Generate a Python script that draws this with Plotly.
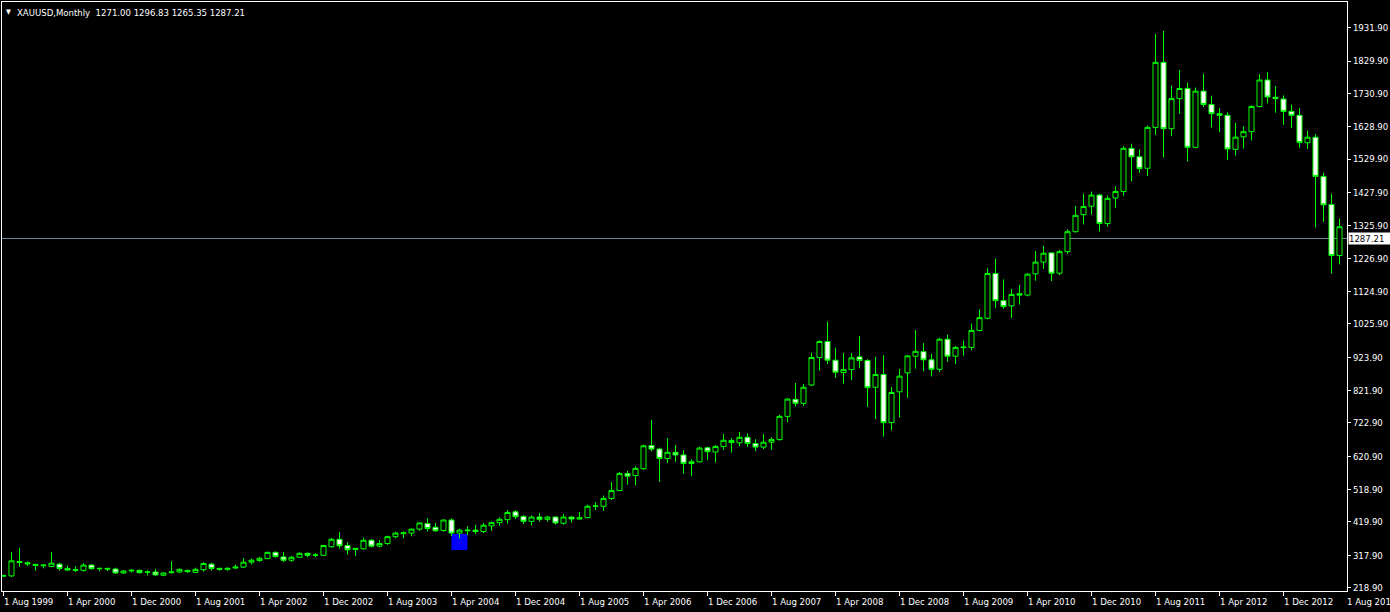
import plotly.graph_objects as go
import pandas as pd

# ---- data (monthly XAUUSD, Aug 1999 .. Jul 2013) ----
months = pd.date_range("1999-08-01", periods=168, freq="MS").strftime("%b %Y").tolist()

opens = [254, 255, 299, 295, 290, 286, 284, 291, 278, 274, 272, 288, 277, 278, 276, 264, 270, 272, 266, 267,
         257, 265, 267, 272, 266, 274, 291, 278, 275, 279, 282, 297, 302, 308, 327, 313, 303, 312, 324, 318,
         318, 344, 367, 348, 336, 338, 364, 346, 354, 375, 384, 386, 398, 415, 404, 394, 426, 386, 393, 395,
         391, 408, 418, 427, 451, 437, 422, 435, 428, 435, 416, 435, 429, 433, 468, 468, 492, 516, 568, 562,
         583, 654, 643, 614, 633, 625, 599, 604, 647, 634, 651, 663, 662, 679, 660, 649, 664, 672, 743, 795,
         783, 839, 923, 972, 915, 877, 886, 925, 914, 832, 871, 724, 818, 876, 927, 941, 916, 887, 979, 927,
         953, 954, 1006, 1043, 1180, 1097, 1081, 1118, 1114, 1179, 1215, 1243, 1181, 1247, 1308, 1360, 1386, 1420, 1333, 1411,
         1431, 1563, 1537, 1502, 1627, 1826, 1623, 1715, 1746, 1566, 1738, 1697, 1669, 1664, 1560, 1598, 1614, 1691, 1772, 1719,
         1714, 1676, 1664, 1580, 1597, 1477, 1391, 1235]
highs = [259, 328, 341, 299, 292, 291, 328, 295, 287, 285, 294, 291, 280, 280, 280, 272, 276, 274, 272, 277,
         266, 300, 278, 273, 280, 297, 295, 280, 281, 290, 310, 308, 313, 329, 330, 328, 316, 327, 326, 325,
         350, 371, 389, 358, 340, 372, 368, 364, 378, 390, 391, 400, 418, 432, 417, 427, 431, 399, 407, 411,
         417, 421, 434, 456, 456, 441, 440, 447, 439, 437, 444, 438, 450, 473, 481, 501, 542, 573, 576, 590,
         656, 732, 647, 677, 655, 640, 612, 650, 650, 655, 689, 677, 695, 691, 673, 689, 679, 748, 798, 845,
         842, 938, 976, 1033, 953, 937, 937, 989, 918, 925, 930, 833, 888, 930, 1007, 967, 934, 983, 993, 958,
         975, 1027, 1070, 1196, 1226, 1162, 1133, 1145, 1181, 1249, 1265, 1245, 1252, 1315, 1387, 1424, 1431, 1424, 1419, 1447,
         1569, 1577, 1560, 1633, 1913, 1922, 1755, 1803, 1764, 1749, 1791, 1724, 1686, 1673, 1641, 1631, 1694, 1790, 1796, 1754,
         1725, 1697, 1686, 1617, 1607, 1488, 1424, 1348]
lows = [252, 252, 283, 285, 271, 278, 282, 271, 270, 267, 268, 274, 269, 270, 262, 262, 265, 262, 256, 256,
        254, 262, 264, 264, 264, 268, 271, 271, 271, 277, 279, 290, 298, 306, 311, 297, 298, 311, 312, 313,
        316, 342, 338, 320, 316, 336, 342, 342, 350, 370, 370, 376, 393, 391, 390, 390, 377, 369, 380, 383,
        386, 393, 408, 415, 429, 414, 409, 421, 421, 412, 412, 418, 427, 432, 456, 454, 487, 515, 534, 532,
        580, 636, 543, 600, 604, 567, 560, 603, 609, 602, 640, 632, 652, 650, 637, 643, 640, 669, 725, 773,
        775, 836, 883, 903, 861, 843, 854, 890, 772, 735, 681, 700, 740, 800, 889, 881, 865, 879, 910, 903,
        929, 945, 1003, 1040, 1074, 1072, 1044, 1085, 1110, 1158, 1194, 1157, 1175, 1240, 1305, 1330, 1360, 1309, 1323, 1381,
        1418, 1462, 1488, 1478, 1604, 1535, 1600, 1668, 1523, 1564, 1689, 1627, 1613, 1527, 1541, 1562, 1587, 1688, 1700, 1672,
        1635, 1625, 1565, 1561, 1321, 1338, 1180, 1208]
closes = [256, 301, 296, 292, 287, 288, 294, 278, 273, 272, 288, 277, 278, 276, 264, 270, 272, 265, 267, 258,
          264, 267, 275, 268, 275, 293, 278, 275, 278, 282, 297, 303, 309, 327, 314, 303, 312, 324, 318, 319,
          348, 367, 347, 335, 339, 364, 346, 354, 375, 386, 387, 398, 417, 400, 393, 426, 386, 395, 395, 391,
          410, 418, 428, 449, 436, 422, 435, 428, 435, 417, 435, 429, 433, 468, 469, 492, 516, 568, 560, 584,
          653, 643, 614, 633, 625, 599, 604, 646, 635, 651, 670, 669, 679, 660, 649, 664, 672, 743, 796, 783,
          832, 923, 972, 915, 878, 886, 922, 914, 831, 871, 724, 816, 866, 928, 942, 916, 887, 979, 927, 954,
          955, 1006, 1045, 1180, 1097, 1079, 1116, 1114, 1178, 1215, 1242, 1181, 1247, 1308, 1358, 1385, 1420, 1333, 1410, 1431,
          1563, 1537, 1501, 1627, 1826, 1623, 1715, 1746, 1566, 1738, 1697, 1669, 1664, 1561, 1597, 1614, 1691, 1772, 1720, 1715,
          1676, 1664, 1581, 1597, 1477, 1390, 1235, 1323]

x_tick_labels = ["1 Aug 1999", "1 Apr 2000", "1 Dec 2000", "1 Aug 2001", "1 Apr 2002", "1 Dec 2002",
                 "1 Aug 2003", "1 Apr 2004", "1 Dec 2004", "1 Aug 2005", "1 Apr 2006", "1 Dec 2006",
                 "1 Aug 2007", "1 Apr 2008", "1 Dec 2008", "1 Aug 2009", "1 Apr 2010", "1 Dec 2010",
                 "1 Aug 2011", "1 Apr 2012", "1 Dec 2012", "1 Aug 2013"]
y_tick_values = [1931.90, 1829.90, 1730.90, 1628.90, 1529.90, 1427.90, 1325.90, 1226.90, 1124.90,
                 1025.90, 923.90, 821.90, 722.90, 620.90, 518.90, 419.90, 317.90, 218.90]

symbol = "XAUUSD,Monthly"
last_bar = [1271.00, 1296.83, 1265.35, 1287.21]  # O H L C of current bar
bid = last_bar[3]

# blue rectangle object (bar-index / price coordinates)
rect_x = (56, 58)
rect_y = (334.2, 383.2)

# ---- figure ----
idx = list(range(len(months)))
FONT = "DejaVu Sans Condensed, Liberation Sans, sans-serif"
GREEN = "#00FF00"
X_RANGE = [-0.1875, 167.9375]

fig = go.Figure()
fig.add_trace(go.Candlestick(
    x=idx, open=opens, high=highs, low=lows, close=closes,
    text=months, hoverinfo="skip",
    increasing=dict(line=dict(color=GREEN, width=1), fillcolor="black"),
    decreasing=dict(line=dict(color=GREEN, width=1), fillcolor="white"),
    whiskerwidth=0,
))

tick_pos = [i * 8 for i in range(len(x_tick_labels))]

annotations = []
for pos, lab in zip(tick_pos, x_tick_labels):
    px = (pos - X_RANGE[0]) / (X_RANGE[1] - X_RANGE[0])
    annotations.append(dict(x=px, xref="paper", y=0, yref="paper", text=lab, showarrow=False,
                            xanchor="left", yanchor="top", xshift=-2, yshift=-3,
                            font=dict(family=FONT, size=9.5, color="white")))
annotations.append(dict(x=0, xref="paper", y=1, yref="paper", text="▼", showarrow=False,
                        xanchor="left", yanchor="top", xshift=2, yshift=-4,
                        font=dict(family=FONT, size=7, color="white")))
annotations.append(dict(x=0, xref="paper", y=1, yref="paper",
                        text=symbol + "\u00a0\u00a0" + " ".join(f"{v:.2f}" for v in last_bar),
                        showarrow=False, xanchor="left", yanchor="top", xshift=13, yshift=-3,
                        font=dict(family=FONT, size=9.5, color="white")))
annotations.append(dict(x=1, xref="paper", y=bid, yref="y", text=f"{bid:.2f}", showarrow=False,
                        xanchor="left", yanchor="middle", xshift=1, width=42, align="left",
                        bgcolor="white", borderpad=0,
                        font=dict(family=FONT, size=9.5, color="black")))

fig.update_layout(
    width=1390, height=612,
    margin=dict(l=2, r=43, t=2, b=21),
    paper_bgcolor="black", plot_bgcolor="black",
    showlegend=False,
    boxgap=0.3, boxgroupgap=0.1,
    annotations=annotations,
    shapes=[
        dict(type="rect", xref="x", yref="y", x0=rect_x[0], x1=rect_x[1], y0=rect_y[0], y1=rect_y[1],
             fillcolor="#0000FF", line=dict(width=0), layer="below"),
        dict(type="line", xref="paper", yref="y", x0=0, x1=1, y0=bid, y1=bid,
             line=dict(color="#778899", width=1), layer="below"),
    ],
    xaxis=dict(range=X_RANGE, showgrid=False, zeroline=False, rangeslider=dict(visible=False),
               tickvals=tick_pos, showticklabels=False, ticks="outside", ticklen=4,
               tickcolor="white", showline=True, linecolor="white", linewidth=1, mirror=True),
    yaxis=dict(range=[208.8, 2010.6], side="right", showgrid=False, zeroline=False,
               tickvals=y_tick_values, ticktext=[f"{v:.2f}" for v in y_tick_values],
               ticks="outside", ticklen=3, tickcolor="white",
               tickfont=dict(family=FONT, size=9.5, color="white"),
               showline=True, linecolor="white", linewidth=1, mirror=True),
)

fig.write_html(
    "out.html",
    config={"displayModeBar": False},
    post_script="document.body.style.margin='0';document.body.style.background='black';"
                "document.body.style.overflow='hidden';",
)
